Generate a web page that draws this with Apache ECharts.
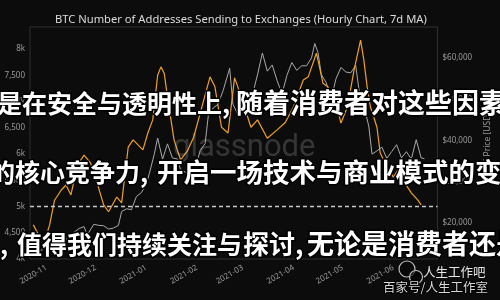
<!DOCTYPE html>
<html><head><meta charset="utf-8">
<script src="https://cdn.jsdelivr.net/npm/echarts@6/dist/echarts.min.js"></script>
<style>html,body{margin:0;padding:0;background:#0c0c0c;}#c{width:500px;height:300px;}</style>
</head><body><div id="c"></div>
<script>
const chartTitle = 'BTC Number of Addresses Sending to Exchanges (Hourly Chart, 7d MA)';
const rightAxisName = 'BTC Price [USD]';

const priceDates = ['2020-10-22','2020-10-25','2020-10-28','2020-10-31','2020-11-03','2020-11-06','2020-11-09','2020-11-12','2020-11-15','2020-11-18','2020-11-21','2020-11-24','2020-11-26','2020-11-30','2020-12-03','2020-12-06','2020-12-09','2020-12-12','2020-12-15','2020-12-17','2020-12-20','2020-12-23','2020-12-26','2020-12-29','2021-01-01','2021-01-03','2021-01-06','2021-01-08','2021-01-11','2021-01-14','2021-01-17','2021-01-20','2021-01-22','2021-01-25','2021-01-28','2021-01-31','2021-02-03','2021-02-06','2021-02-08','2021-02-11','2021-02-14','2021-02-17','2021-02-21','2021-02-23','2021-02-26','2021-03-01','2021-03-04','2021-03-07','2021-03-10','2021-03-13','2021-03-16','2021-03-19','2021-03-22','2021-03-25','2021-03-28','2021-03-31','2021-04-03','2021-04-06','2021-04-09','2021-04-12','2021-04-14','2021-04-16','2021-04-18','2021-04-21','2021-04-24','2021-04-27','2021-04-30','2021-05-03','2021-05-06','2021-05-09','2021-05-12','2021-05-15','2021-05-17','2021-05-19','2021-05-22','2021-05-25','2021-05-28','2021-05-31','2021-06-03','2021-06-06','2021-06-09','2021-06-12','2021-06-15','2021-06-18','2021-06-20'];
const priceValues = [12990,13030,13280,13800,14020,15590,15330,16300,15960,17800,18680,19150,17150,19700,19450,19360,18550,18800,19430,22800,23470,23240,26440,27360,29370,32100,36800,40600,35500,39190,35800,35500,33000,32300,33400,33100,37600,39260,46200,47900,48800,52100,57500,48800,46300,49600,48400,51200,55900,61200,56800,58300,54500,51300,55800,58900,57000,58100,58100,60000,63500,61300,56000,54000,50000,55000,57700,56600,56400,58200,49500,46800,43500,36700,37500,38400,35700,37300,39000,35800,37300,35500,40200,35800,35600];

const addrDates = ['2020-10-24','2020-10-28','2020-10-31','2020-11-03','2020-11-06','2020-11-10','2020-11-13','2020-11-16','2020-11-20','2020-11-24','2020-11-28','2020-12-02','2020-12-06','2020-12-09','2020-12-14','2020-12-17','2020-12-21','2020-12-24','2020-12-30','2021-01-02','2021-01-05','2021-01-08','2021-01-10','2021-01-12','2021-01-14','2021-01-18','2021-01-22','2021-01-26','2021-01-30','2021-02-03','2021-02-09','2021-02-12','2021-02-16','2021-02-20','2021-02-24','2021-02-26','2021-03-02','2021-03-06','2021-03-10','2021-03-16','2021-03-22','2021-03-27','2021-04-01','2021-04-07','2021-04-10','2021-04-15','2021-04-16','2021-04-19','2021-04-22','2021-04-26','2021-04-30','2021-05-04','2021-05-08','2021-05-12','2021-05-14','2021-05-16','2021-05-18','2021-05-22','2021-05-24','2021-05-27','2021-06-01','2021-06-05','2021-06-08','2021-06-12','2021-06-16','2021-06-18'];
const addrValues = [4650,4420,4360,4650,5120,5310,5410,5220,5790,5980,5830,5450,5030,4900,5180,5070,6130,6270,6080,6400,6650,7500,7660,7540,7090,6270,5890,6050,6320,6780,7470,7280,6510,6400,7450,7280,6900,6510,6650,6300,6460,6600,6900,7410,7470,7920,7790,7350,7280,7090,6590,6900,7600,8170,7790,7280,6900,6510,6020,5830,5560,5750,5450,5260,5120,5030];

const refLevel = 5000;

const overlayLines = [
  {text:'是在安全与透明性上,', x:-3, y:103, size:25},
  {text:'随着消费者对这些因素的', x:236, y:103, size:27},
  {text:'的核心竞争力,', x:-10, y:172, size:25},
  {text:'开启一场技术与商业模式的变革', x:157, y:172, size:26.5},
  {text:',', x:0, y:244, size:25},
  {text:'值得我们持续关注与', x:17, y:244, size:25},
  {text:'探讨,', x:243, y:244, size:26},
  {text:'无论是消费者还是', x:307, y:244, size:27}
];

const chart = echarts.init(document.getElementById('c'), null, {renderer:'canvas'});
const pair = (d, v) => d.map((t, i) => [t, v[i]]);

const overlayGraphics = overlayLines.map(l => ({
  type:'text', x:l.x, y:l.y, z:100,
  style:{text:l.text, fill:'#ffffff', fontSize:l.size, fontWeight:'bold',
    fontFamily:'"Noto Sans CJK SC"', textVerticalAlign:'middle',
    stroke:'#000', lineWidth:3, strokeFirst:true, shadowColor:'rgba(0,0,0,0.8)', shadowBlur:3}
}));

chart.setOption({
  backgroundColor:'#0c0c0c',
  animation:false,
  title:{text:chartTitle, left:50, top:9, textStyle:{color:'#dcdcdc', fontSize:11.2, fontWeight:'normal', fontFamily:'"Noto Sans"'}},
  grid:{left:30, right:48, top:27, bottom:41, show:true, borderColor:'#2e2e2e', borderWidth:1, containLabel:false},
  xAxis:{type:'time', min:'2020-10-22', max:'2021-06-28', splitNumber:8,
    axisLine:{show:false}, axisTick:{show:false}, splitLine:{show:false},
    axisLabel:{rotate:30, formatter:'{yyyy}-{MM}', color:'#9a9a9a', fontSize:8, margin:8,
      showMinLabel:false, showMaxLabel:false, fontFamily:'"Noto Sans"'}},
  yAxis:[
    {type:'value', min:4000, max:8420, interval:500, position:'left',
      axisLine:{show:false}, axisTick:{show:false}, splitLine:{show:false},
      axisLabel:{color:'#9a9a9a', fontSize:8, margin:5, fontFamily:'"Noto Sans"',
        formatter:v => (v % 1000 === 0 ? (v/1000)+'k' : (v % 500 === 0 ? v.toLocaleString('en-US') : ''))}},
    {type:'value', min:11300, max:67500, splitNumber:5, position:'right',
      name:rightAxisName, nameLocation:'middle', nameGap:37,
      nameTextStyle:{color:'#9a9a9a', fontSize:8.5, fontFamily:'"Noto Sans"'},
      axisLine:{show:false}, axisTick:{show:false}, splitLine:{show:false},
      axisLabel:{color:'#9a9a9a', fontSize:8, margin:5, fontFamily:'"Noto Sans"', showMinLabel:false, showMaxLabel:false,
        formatter:v => (v % 10000 === 0 ? '$' + v.toLocaleString('en-US') : '')}}
  ],
  series:[
    {type:'line', yAxisIndex:1, data:pair(priceDates, priceValues), showSymbol:false,
      lineStyle:{color:'#a9a9a9', width:1}, z:2},
    {type:'line', yAxisIndex:0, data:pair(addrDates, addrValues), showSymbol:false,
      lineStyle:{color:'#f0a028', width:1.2}, z:3,
      markLine:{silent:true, symbol:['none','none'], label:{show:false},
        lineStyle:{color:'#c8c8c8', type:[4,3], width:1.3}, data:[{yAxis:refLevel}]}}
  ],
  graphic:[
    {type:'text', x:173, y:148, z:50, style:{text:'glassnode', fill:'rgba(200,200,200,0.22)', fontSize:31, fontFamily:'Roboto', textVerticalAlign:'middle'}},
    ...overlayGraphics,
    {type:'circle', z:60, shape:{cx:407, cy:269, r:8}, style:{fill:'rgba(0,0,0,0.3)', stroke:'#bdbdbd', lineWidth:1.2}},
    {type:'circle', z:61, shape:{cx:416, cy:277, r:6.5}, style:{fill:'rgba(0,0,0,0.6)', stroke:'#bdbdbd', lineWidth:1.2}},
    {type:'text', x:423, y:272, z:70, style:{text:'人生工作吧', fill:'#e6e6e6', fontSize:12.5, fontFamily:'"Noto Sans CJK SC"', textVerticalAlign:'middle'}},
    {type:'text', x:383, y:287, z:70, style:{text:'百家号/人生工作室', fill:'#d8d8d8', fontSize:12.5, fontFamily:'"Noto Sans CJK SC"', textVerticalAlign:'middle', stroke:'#000', lineWidth:2, strokeFirst:true}}
  ]
});
</script></body></html>
